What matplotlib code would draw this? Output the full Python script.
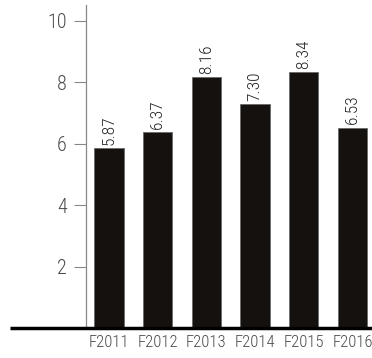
import numpy as np
import matplotlib
matplotlib.use("Agg")
import matplotlib.pyplot as plt

# data ------------------------------------------------------------
anni   = ["F2011", "F2012", "F2013", "F2014", "F2015", "F2016"]
valori = [5.87, 6.37, 8.16, 7.30, 8.34, 6.53]
yticks = [2, 4, 6, 8, 10]

plt.rcParams['font.family'] = ['Roboto Condensed', 'DejaVu Sans']

# grafica ---------------------------------------------------------
fig = plt.figure(figsize=(3.72, 3.58), dpi=100)
ax = fig.add_axes([86/372, 1-328/358, 1-86/372, (328-5)/358])

x = np.arange(len(anni))
ax.bar(x, valori, width=0.6, color="#15110e", edgecolor="#6a6a6a", linewidth=0.6, zorder=2)

for xi, v in zip(x, valori):
    ax.text(xi, v + 0.1, "%.2f" % v, rotation=90, ha="center", va="bottom",
            fontsize=12.5, color="#222222", fontweight="light")

ax.set_xlim(-0.47, 5.40)
ax.set_ylim(0, 10.52)

ax.set_yticks(yticks)
ax.set_yticklabels([str(t) for t in yticks])
ax.tick_params(axis="y", length=9, width=0.8, color="#888888", labelcolor="#4a4a4a",
               labelsize=14.5, pad=5)
ax.set_xticks(x)
ax.set_xticklabels(anni)
ax.tick_params(axis="x", length=0, labelcolor="#4a4a4a", labelsize=12, pad=5)
for lab in ax.get_xticklabels() + ax.get_yticklabels():
    lab.set_fontweight("light")

for s in ["top", "right", "bottom"]:
    ax.spines[s].set_visible(False)
ax.spines["left"].set_color("#888888")
ax.spines["left"].set_linewidth(0.9)

# linea di base che sborda a sinistra
ax.plot([(10-86)/(372-86), 1.0], [0, 0], transform=ax.transAxes, color="black",
        linewidth=2.5, clip_on=False, zorder=3, solid_capstyle="butt")

fig.savefig("out.png", dpi=100)
